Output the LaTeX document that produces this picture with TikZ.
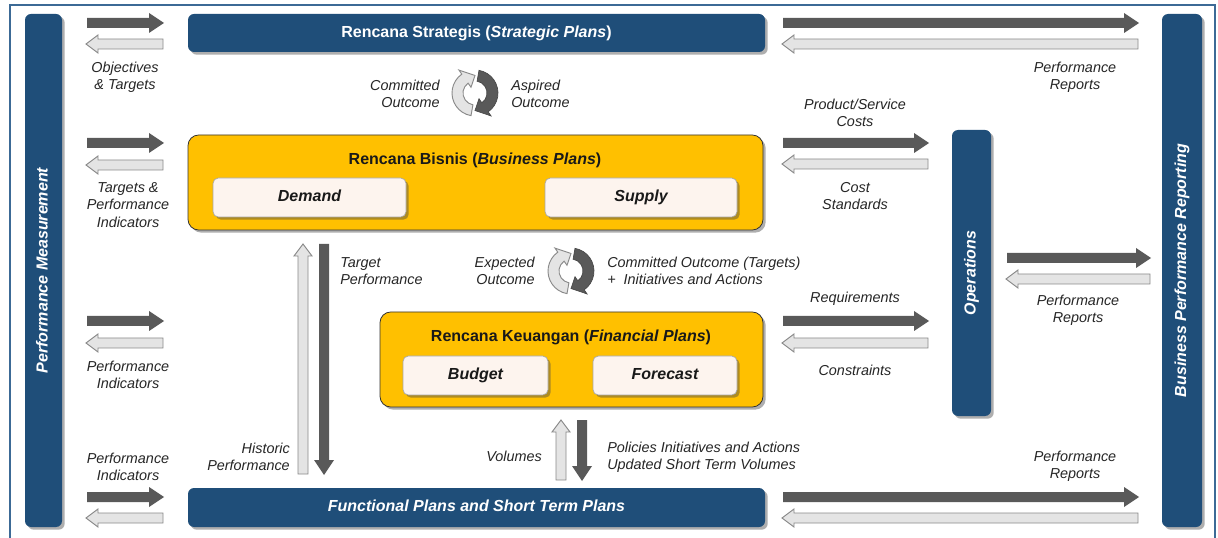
\documentclass[tikz,border=0pt]{standalone}
\usepackage{fontspec}
\setmainfont{Liberation Sans}
\usetikzlibrary{shadows,fit}
\definecolor{barblue}{HTML}{1F4E79}
\definecolor{gold}{HTML}{FFC000}
\definecolor{cream}{HTML}{FDF4EE}
\definecolor{darkarr}{HTML}{595959}
\definecolor{lightarr}{HTML}{E4E4E4}
\definecolor{lightedge}{HTML}{8A8A8A}
\definecolor{framec}{HTML}{3C6A96}
\definecolor{labelc}{HTML}{262626}
\tikzset{
 shad/.style={drop shadow={shadow xshift=2pt,shadow yshift=-2pt,opacity=0.45,fill=black!70}},
 bar/.style={fill=barblue, rounded corners=4.5pt, inner sep=0pt, shad},
 goldbox/.style={fill=gold, draw=black!80, line width=0.6pt, rounded corners=8pt, inner sep=0pt, shad},
 subbox/.style={fill=cream, draw=black!35, line width=0.5pt, rounded corners=4pt, inner sep=0pt, shad},
 subtext/.style={font=\fontsize{12}{14}\selectfont\bfseries\itshape, text=black!90, inner sep=0pt, text height=8.7pt, text depth=2.5pt},
 bartext/.style={text=white, font=\fontsize{12}{14}\selectfont\bfseries, inner sep=0pt, text height=8.7pt, text depth=2.5pt},
 bartextit/.style={text=white, font=\fontsize{12}{14}\selectfont\bfseries\itshape, inner sep=0pt, text height=8.7pt, text depth=2.5pt},
 goldtitle/.style={text=black!90, font=\fontsize{12}{14}\selectfont\bfseries, inner sep=0pt, text height=8.7pt, text depth=2.5pt},
 lbl/.style={font=\fontsize{10.8}{13}\selectfont\itshape, text=labelc, align=center, inner sep=0pt},
 lightstyle/.style={fill=lightarr, draw=lightedge, line width=0.7pt},
 darkstyle/.style={fill=darkarr},
}
% horizontal dark arrow pointing right: x1, x2(tip), y
\newcommand\arR[3]{\fill[darkstyle] (#1,#3-5) -- (#2-15,#3-5) -- (#2-15,#3-10) -- (#2,#3) -- (#2-15,#3+10) -- (#2-15,#3+5) -- (#1,#3+5) -- cycle;}
% horizontal light arrow pointing left: x1(tip), x2, y
\newcommand\arL[3]{\filldraw[lightstyle] (#2,#3-5) -- (#1+12,#3-5) -- (#1+12,#3-9) -- (#1,#3) -- (#1+12,#3+9) -- (#1+12,#3+5) -- (#2,#3+5) -- cycle;}
% vertical dark arrow pointing down: x, ytop, ytip
\newcommand\arD[3]{\fill[darkstyle] (#1-5,#2) -- (#1-5,#3-15) -- (#1-10,#3-15) -- (#1,#3) -- (#1+10,#3-15) -- (#1+5,#3-15) -- (#1+5,#2) -- cycle;}
% vertical light arrow pointing up: x, ytip, ybottom
\newcommand\arU[3]{\filldraw[lightstyle] (#1-5,#3) -- (#1-5,#2+12) -- (#1-9,#2+12) -- (#1,#2) -- (#1+9,#2+12) -- (#1+5,#2+12) -- (#1+5,#3) -- cycle;}
% cycle icon
\newcommand\cycleicon[2]{%
 \begin{scope}[shift={(#1,#2)}]
  \filldraw[lightstyle] (100:23) arc[start angle=100, end angle=235, radius=23] -- (235:28) -- (270:17.5) -- (235:7) -- (235:12) arc[start angle=235, end angle=100, radius=12] -- cycle;
  \filldraw[fill=darkarr, draw=darkarr!80!black, line width=0.5pt] (280:23) arc[start angle=280, end angle=415, radius=23] -- (415:28) -- (450:17.5) -- (415:7) -- (415:12) arc[start angle=415, end angle=280, radius=12] -- cycle;
 \end{scope}}
\begin{document}
\begin{tikzpicture}[x=0.75pt,y=-0.75pt]
\useasboundingbox (0,0) rectangle (1218,538);
\fill[white] (0,0) rectangle (1218,538);
\draw[framec, line width=1.5pt] (10,550) -- (10,5) -- (1215,5) -- (1215,550);

% bars
\node[bar, fit={(25,14)(62,527)}] (pm) {};
\node[bartextit, rotate=90] at (pm) {Performance Measurement};
\node[bar, fit={(1162,14)(1202,527)}] (bpr) {};
\node[bartextit, rotate=90] at (bpr) {Business Performance Reporting};
\node[bar, fit={(952,130)(991,416)}] (ops) {};
\node[bartextit, rotate=90] at (ops) {Operations};
\node[bar, fit={(188,14)(765,52)}] (sp) {};
\node[bartext] at (sp) {Rencana Strategis (\textit{Strategic Plans})};
\node[bar, fit={(188,488)(765,527)}] (fsp) {};
\node[bartextit] at (fsp) {Functional Plans and Short Term Plans};

% gold boxes
\node[goldbox, fit={(188,135)(763,230)}] (bp) {};
\node[goldtitle] (bpt) at (475,160) {Rencana Bisnis (\textit{Business Plans})};
\node[subbox, fit={(213,178)(406,217)}] (dem) {};
\node[subtext] at (dem) {Demand};
\node[subbox, fit={(545,178)(737,217)}] (sup) {};
\node[subtext] at (sup) {Supply};
\node[goldbox, fit={(380,312)(763,407)}] (fp) {};
\node[goldtitle] (fpt) at (571,337) {Rencana Keuangan (\textit{Financial Plans})};
\node[subbox, fit={(403,356)(548,395)}] (bud) {};
\node[subtext] at (bud) {Budget};
\node[subbox, fit={(593,356)(737,395)}] (fc) {};
\node[subtext] at (fc) {Forecast};

% left arrows
\arR{87}{164}{23} \arL{86}{163}{44}
\arR{87}{164}{143} \arL{86}{163}{165}
\arR{87}{164}{321} \arL{86}{163}{343}
\arR{87}{164}{497} \arL{86}{163}{518}
% right arrows
\arR{783}{1139}{23} \arL{782}{1138}{44}
\arR{783}{929}{143} \arL{782}{928}{164}
\arR{783}{929}{321} \arL{782}{928}{343}
\arR{1007}{1151}{258} \arL{1006}{1150}{279}
\arR{783}{1139}{497} \arL{782}{1138}{518}
% vertical arrows
\arU{303}{244}{474} \arD{324}{244}{475}
\arU{561}{420}{480} \arD{582}{420}{481}

% cycle icons
\cycleicon{475}{93}
\cycleicon{571}{271}

% labels
\node[lbl] (l1) at (125,77) {Objectives\\\& Targets};
\node[lbl] (l2) at (128,205) {Targets \&\\Performance\\Indicators};
\node[lbl] (l3) at (128,375) {Performance\\Indicators};
\node[lbl] (l4) at (128,467) {Performance\\Indicators};
\node[lbl, anchor=east, align=right] (l5) at (440,94) {Committed\\Outcome};
\node[lbl, anchor=west, align=left] (l6) at (511,94) {Aspired\\Outcome};
\node[lbl] (l7) at (1075,77) {Performance\\Reports};
\node[lbl] (l8) at (855,113) {Product/Service\\Costs};
\node[lbl] (l9) at (855,196) {Cost\\Standards};
\node[lbl, anchor=west, align=left] (l10) at (340,271) {Target\\Performance};
\node[lbl, anchor=east, align=right] (l11) at (290,457) {Historic\\Performance};
\node[lbl, anchor=east, align=right] (l12) at (535,271) {Expected\\Outcome};
\node[lbl, anchor=west, align=left] (l13) at (607,271) {Committed Outcome (Targets)\\+\ \ Initiatives and Actions};
\node[lbl] (l14) at (855,299) {Requirements};
\node[lbl] (l15) at (855,370) {Constraints};
\node[lbl] (l16) at (1078,310) {Performance\\Reports};
\node[lbl] (l17) at (514,456) {Volumes};
\node[lbl, anchor=west, align=left] (l18) at (607,457) {Policies Initiatives and Actions\\Updated Short Term Volumes};
\node[lbl] (l19) at (1075,466) {Performance\\Reports};
\end{tikzpicture}
\end{document}
